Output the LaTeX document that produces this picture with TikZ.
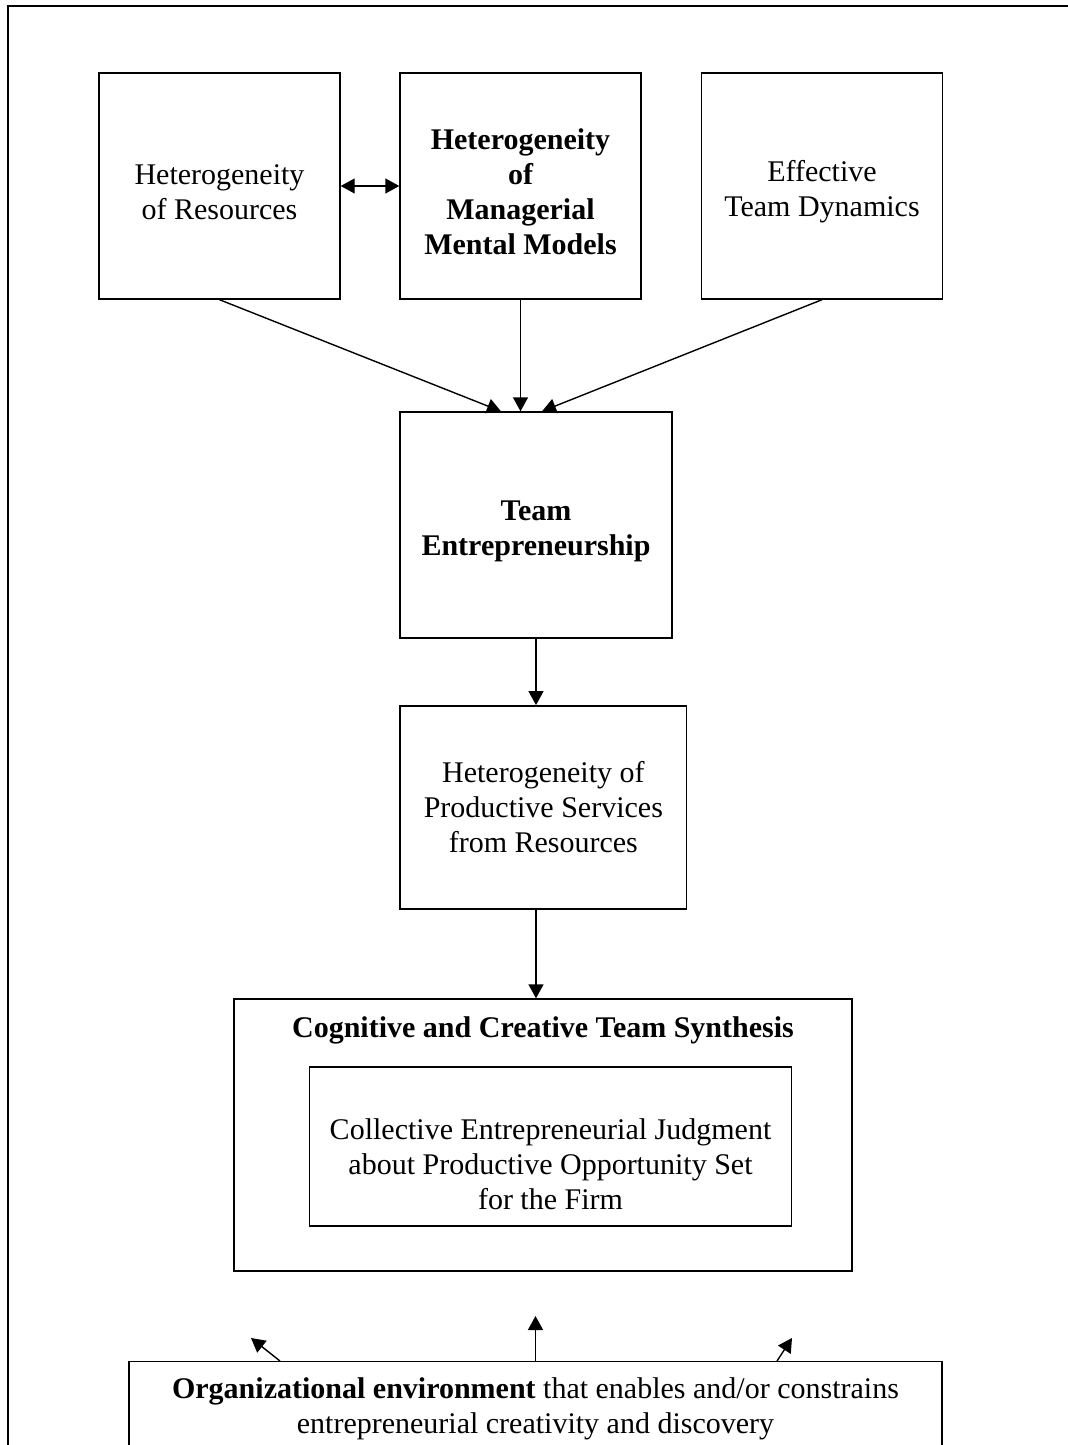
\documentclass[tikz,border=0pt]{standalone}
\usepackage{fontspec}
\setmainfont{Liberation Serif}
\usetikzlibrary{arrows.meta}
\def\lift{\rule{0pt}{16pt}}
\tikzset{
	box/.style={draw, line width=0.7pt, align=center, inner sep=0pt, font=\fontsize{15}{17.5}\selectfont},
	boldbox/.style={box, font=\fontsize{15}{17.5}\selectfont\bfseries},
	plain/.style={align=center, inner sep=0pt, font=\fontsize{15}{17.5}\selectfont},
	arr/.style={line width=0.7pt, ->},
	dblarr/.style={line width=0.7pt, <->},
}

\begin{document}
\begin{tikzpicture}[x=0.5pt, y=-0.5pt, >={Triangle[length=7pt,width=7.5pt]}]
			%%%%% START %%%%%
			
			\useasboundingbox (0, 0) rectangle (1068, 1445);
			\clip (0, 0) rectangle (1068, 1445);
			
			\draw[line width=1pt] (8, 1445) -- (8, 6) -- (1068, 6);
			
			\node[box, minimum width=120.5pt, minimum height=113pt] (hres) at (219.5, 186) {\lift Heterogeneity\\of Resources};
			\node[boldbox, minimum width=120.5pt, minimum height=113pt] (hmm) at (520.5, 186) {\lift Heterogeneity\\of\\Managerial\\Mental Models};
			\node[box, minimum width=120.5pt, minimum height=113pt] (dyn) at (822, 186) {\lift Effective\\Team Dynamics};
			
			\node[boldbox, minimum width=136pt, minimum height=113pt] (team) at (536, 525) {\lift Team\\Entrepreneurship};
			
			\node[box, minimum width=143.35pt, minimum height=101.6pt] (prod) at (543.35, 807.4) {Heterogeneity of\\Productive Services\\from Resources};
			
			\node[box, minimum width=309pt, minimum height=136pt] (cog) at (543, 1135) {};
			\node[plain, font=\fontsize{15}{17.5}\selectfont\bfseries, anchor=base] (cogtitle) at (543, 1037) {Cognitive and Creative Team Synthesis};
			\node[box, minimum width=241pt, minimum height=79.5pt] (judge) at (550.5, 1146.5) {};
			\node[plain] (judgetext) at (550.5, 1164) {Collective Entrepreneurial Judgment\\about Productive Opportunity Set\\for the Firm};
			
			\node[box, minimum width=406.5pt, anchor=north, inner ysep=8pt] (org) at (535.5, 1361) {\textbf{Organizational environment} that enables and/or constrains\\entrepreneurial creativity and discovery};
			
			\coordinate (upl) at (251, 1338);
			\coordinate (upm) at (535.5, 1316);
			\coordinate (upr) at (792, 1338);
			
			\draw[dblarr] (hres.east) -- (hmm.west);
			\draw[arr] (hres.south) -- ([xshift=-17.5pt]team.north);
			\draw[arr] (hmm.south) -- (hmm.south |- team.north);
			\draw[arr] (dyn.south) -- ([xshift=3pt]team.north);
			
			\draw[arr] (team.south) -- (team.south |- prod.north);
			\draw[arr] (team.south |- prod.south) -- (team.south |- cog.north);
			
			\draw[arr] ([xshift=-127.75pt]org.north) -- (upl);
			\draw[arr] (org.north) -- (upm);
			\draw[arr] ([xshift=120.75pt]org.north) -- (upr);
			
			%%%%% END %%%%%
		\end{tikzpicture}
\end{document}
